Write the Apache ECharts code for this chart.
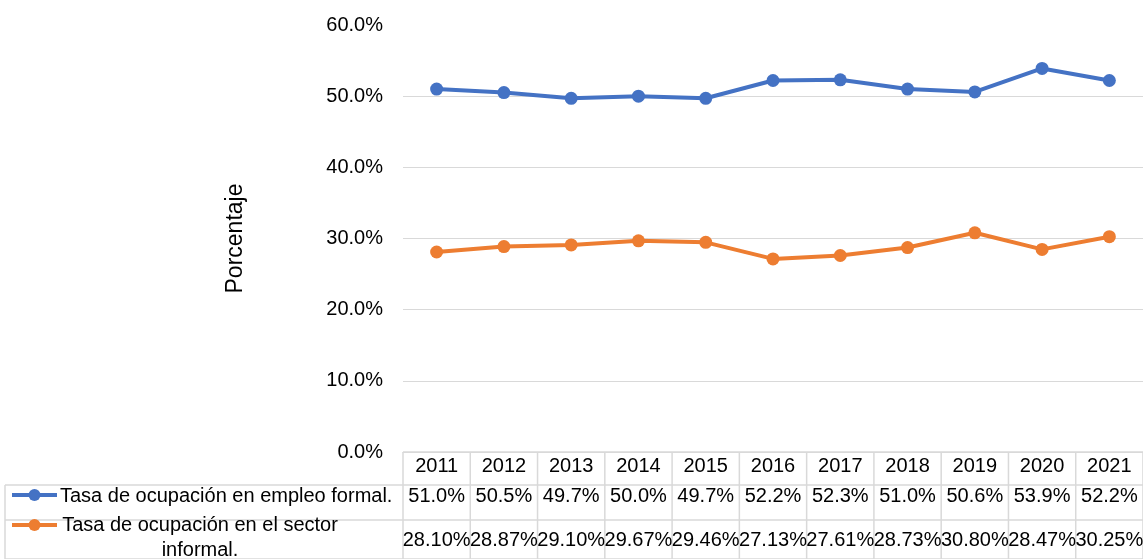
<!DOCTYPE html>
<html>
<head>
<meta charset="utf-8">
<script src="https://cdn.jsdelivr.net/npm/echarts@6/dist/echarts.min.js"></script>
<style>
  html, body { margin: 0; padding: 0; background: #fff; }
  #chart { width: 1143px; height: 559px; }
</style>
</head>
<body>
<div id="chart"></div>
<script>
const years = ["2011", "2012", "2013", "2014", "2015", "2016", "2017", "2018", "2019", "2020", "2021"];
const formal = [51.0, 50.5, 49.7, 50.0, 49.7, 52.2, 52.3, 51.0, 50.6, 53.9, 52.2];
const informal = [28.10, 28.87, 29.10, 29.67, 29.46, 27.13, 27.61, 28.73, 30.80, 28.47, 30.25];
const formalName = "Tasa de ocupación en empleo formal.";
const informalName = "Tasa de ocupación en el sector\ninformal.";

const FONT = "Liberation Sans, Arial, sans-serif";
const BORDER = "#d9d9d9";
const BLUE = "#4472C4";
const ORANGE = "#ED7D31";

const chart = echarts.init(document.getElementById("chart"), null, { renderer: "canvas" });

const option = {
  animation: false,
  grid: { left: 403, right: 0, top: 25, bottom: 107 },
  xAxis: {
    type: "category",
    data: years,
    axisLine: { lineStyle: { color: BORDER } },
    axisTick: { show: false },
    axisLabel: { show: false },
  },
  yAxis: {
    type: "value",
    min: 0,
    max: 60,
    interval: 10,
    name: "Porcentaje",
    nameLocation: "middle",
    nameGap: 156,
    nameRotate: 90,
    nameTextStyle: { fontFamily: FONT, fontSize: 23, color: "#000" },
    axisLine: { show: false },
    axisTick: { show: false },
    axisLabel: {
      fontFamily: FONT,
      fontSize: 20,
      color: "#000",
      margin: 20,
      formatter: (v) => v.toFixed(1) + "%",
    },
    splitLine: { showMaxLine: false, lineStyle: { color: BORDER, width: 1 } },
  },
  series: [
    {
      name: formalName,
      type: "line",
      data: formal,
      color: BLUE,
      lineStyle: { width: 4 },
      symbol: "circle",
      symbolSize: 13,
    },
    {
      name: informalName,
      type: "line",
      data: informal,
      color: ORANGE,
      lineStyle: { width: 4 },
      symbol: "circle",
      symbolSize: 13,
    },
  ],
};
chart.setOption(option);

// tabla de datos debajo del eje
const buildTable = () => {
  const els = [];
  const xs = years.map((y, i) => chart.convertToPixel({ xAxisIndex: 0 }, i));
  const band = xs.length > 1 ? xs[1] - xs[0] : 67;
  const x0 = xs[0] - band / 2;
  const x1 = xs[xs.length - 1] + band / 2;
  const yTop = 452, yR1 = 485, yR2 = 520, yBot = 559;
  const line = (xa, ya, xb, yb) => ({
    type: "line",
    shape: { x1: xa, y1: ya, x2: xb, y2: yb },
    style: { stroke: BORDER, lineWidth: 1.5 },
    silent: true,
  });
  const text = (str, x, y, align) => ({
    type: "text",
    x: x, y: y,
    style: {
      text: str, fill: "#000", font: "20px " + FONT,
      align: align || "center", verticalAlign: "middle", lineHeight: 25,
    },
    silent: true,
  });
  els.push(line(x0, yTop, x1, yTop));
  els.push(line(5, yR1, x1, yR1));
  els.push(line(5, yR2, x1, yR2));
  els.push(line(5, yBot, x1, yBot));
  els.push(line(5, yR1, 5, yBot));
  for (let i = 0; i <= years.length; i++) {
    const x = x0 + i * band;
    els.push(line(x, yTop, x, yBot));
  }
  years.forEach((y, i) => {
    els.push(text(y, xs[i], 466));
    els.push(text(formal[i].toFixed(1) + "%", xs[i], 496));
    els.push(text(informal[i].toFixed(2) + "%", xs[i], 540));
  });
  // claves de leyenda
  [[BLUE, 495], [ORANGE, 525]].forEach(([c, y]) => {
    els.push({ type: "line", shape: { x1: 12, y1: y, x2: 57, y2: y }, style: { stroke: c, lineWidth: 4 }, silent: true });
    els.push({ type: "circle", shape: { cx: 34.5, cy: y, r: 6 }, style: { fill: c }, silent: true });
  });
  els.push(text(formalName, 60, 496, "left"));
  els.push(text(informalName, 200, 538, "center"));
  chart.setOption({ graphic: { elements: els } });
};
buildTable();
</script>
</body>
</html>
